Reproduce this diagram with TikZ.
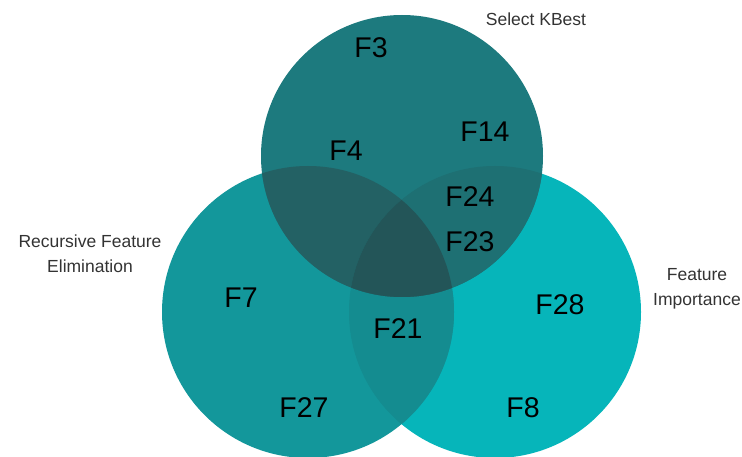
\documentclass[tikz,border=0pt]{standalone}
\usepackage{fontspec}
\setmainfont{Liberation Sans}
\definecolor{cR}{HTML}{06B5BA}
\definecolor{cL}{HTML}{13979B}
\definecolor{cT}{HTML}{1D7A7E}
\definecolor{cLR}{HTML}{148C90}
\definecolor{cTL}{HTML}{236164}
\definecolor{cTR}{HTML}{1E7073}
\definecolor{cTLR}{HTML}{235558}
\definecolor{lbl}{HTML}{333333}
\tikzset{
  feat/.style={font=\fontsize{28.5}{30}\selectfont, text=black, inner sep=0pt},
  setlabel/.style={font=\fontsize{17.5}{25}\selectfont, text=lbl, align=center, inner sep=0pt},
}
\newcommand{\circT}{(402,156) circle (141)}
\newcommand{\circL}{(308,312) circle (146)}
\newcommand{\circR}{(495,312) circle (146)}
\begin{document}
\begin{tikzpicture}[x=1pt,y=-1pt]
\useasboundingbox (0,0) rectangle (742,457);
\begin{scope}
\clip (0,0) rectangle (742,457);
\fill[cR] \circR;
\fill[cL] \circL;
\begin{scope}\clip \circL; \fill[cLR] \circR;\end{scope}
\fill[cT] \circT;
\begin{scope}\clip \circT; \fill[cTL] \circL;\end{scope}
\begin{scope}\clip \circT; \fill[cTR] \circR;\end{scope}
\begin{scope}\clip \circT; \clip \circL; \fill[cTLR] \circR;\end{scope}
\end{scope}
\node[setlabel] (kbest) at (536,19) {Select KBest};
\node[setlabel] (rfe) at (90,254) {Recursive Feature\\Elimination};
\node[setlabel] (fi) at (697,289) {Feature\\Importance};
\node[feat] (f3) at (371,48) {F3};
\node[feat] (f14) at (485,132) {F14};
\node[feat] (f4) at (346,151) {F4};
\node[feat] (f24) at (470,197) {F24};
\node[feat] (f23) at (470,242) {F23};
\node[feat] (f7) at (241,298) {F7};
\node[feat] (f21) at (398,329) {F21};
\node[feat] (f28) at (560,305) {F28};
\node[feat] (f27) at (304,408) {F27};
\node[feat] (f8) at (523,408) {F8};
\end{tikzpicture}
\end{document}
